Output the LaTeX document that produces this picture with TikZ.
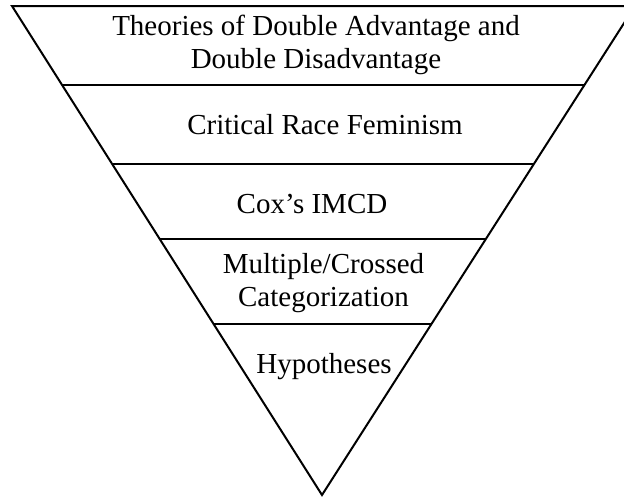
\documentclass[tikz,border=0pt]{standalone}
\usepackage{fontspec}
\setmainfont{Liberation Serif}
\usetikzlibrary{calc}
\tikzset{
  edge/.style={line width=2pt, black},
  divider/.style={line width=1.8pt, black},
  label/.style={inner sep=0pt, align=center, font=\fontsize{29}{33}\selectfont}
}
\begin{document}
\begin{tikzpicture}[x=1pt,y=-1pt]
  \useasboundingbox (0,0) rectangle (624,496);
  \clip (0,0) rectangle (624,496);
  \coordinate (TL) at (12,6);
  \coordinate (TR) at (635,6);
  \coordinate (A) at (322,495);
  \draw[edge, line join=miter] (TL) -- (TR) -- (A) -- cycle;
  \foreach \t [count=\i] in {0.1616,0.3231,0.4765,0.6503}{
    \coordinate (L\i) at ($(TL)!\t!(A)$);
    \coordinate (R\i) at ($(TR)!\t!(A)$);
    \draw[divider] (L\i) -- (R\i);
  }
  \node[label] (theories) at (316,45.3) {Theories of Double Advantage and\\Double Disadvantage};
  \node[label, anchor=base] (crf) at (325,134) {Critical Race Feminism};
  \node[label, anchor=base] (cox) at (312,213) {Cox’s IMCD};
  \node[label] (mcc) at (323.5,283.3) {Multiple/Crossed\\Categorization};
  \node[label, anchor=base] (hyp) at (324,373) {Hypotheses};
\end{tikzpicture}
\end{document}
